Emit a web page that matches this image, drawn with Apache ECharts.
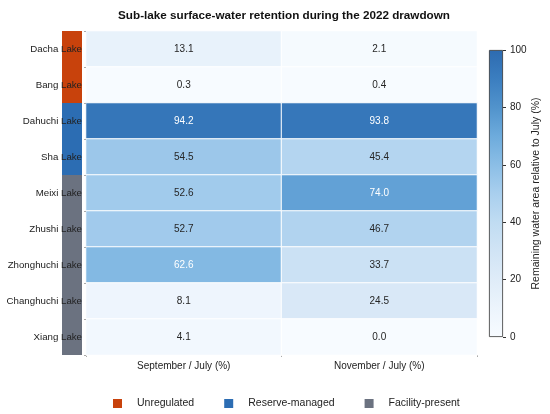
<!DOCTYPE html>
<html>
<head>
<meta charset="utf-8">
<script src="https://cdn.jsdelivr.net/npm/echarts@6/dist/echarts.min.js"></script>
<style>html,body{margin:0;padding:0;background:#fff}#c{width:550px;height:414px}</style>
</head>
<body>
<div id="c"></div>
<script>
const lakes = ['Dacha Lake','Bang Lake','Dahuchi Lake','Sha Lake','Meixi Lake','Zhushi Lake','Zhonghuchi Lake','Changhuchi Lake','Xiang Lake'];
const periods = ['September / July (%)','November / July (%)'];
const sepValues = [13.1, 0.3, 94.2, 54.5, 52.6, 52.7, 62.6, 8.1, 4.1];
const novValues = [2.1, 0.4, 93.8, 45.4, 74.0, 46.7, 33.7, 24.5, 0.0];
const groupNames = ['Unregulated','Reserve-managed','Facility-present'];
const lakeGroups = [0, 0, 1, 1, 2, 2, 2, 2, 2];
const colorbarTicks = [0, 20, 40, 60, 80, 100];

const groupColors = ['#c8420c', '#2c6db3', '#6b7280'];
const rampColors = ['#f7fbff','#ecf4fc','#dfecf8','#d1e4f5','#c0dcf2','#a9cfee','#8bbee6','#6dabdc','#5193cc','#3b7ec0','#2d6bb0'];
const fontFam = '"Liberation Sans", Arial, sans-serif';

const heatData = [];
[sepValues, novValues].forEach((arr, xi) => {
  arr.forEach((v, yi) => {
    heatData.push({ value: [xi, yi, v], label: { color: v > 60 ? '#ffffff' : '#262626' } });
  });
});

const stripSeries = groupNames.map((g, gi) => ({
  name: g,
  type: 'bar',
  xAxisIndex: 1, yAxisIndex: 1,
  barWidth: '100%', barGap: '-100%',
  itemStyle: { color: groupColors[gi] },
  data: lakes.map((l, i) => lakeGroups[i] === gi ? 1 : '-'),
  silent: true
}));

const stops = rampColors.map((c, i) => ({ offset: i / (rampColors.length - 1), color: c }));

const chart = echarts.init(document.getElementById('c'), null, { renderer: 'canvas' });
chart.setOption({
  animation: false,
  backgroundColor: '#fff',
  textStyle: { fontFamily: fontFam },
  title: {
    text: 'Sub-lake surface-water retention during the 2022 drawdown',
    left: 279, textAlign: 'center', top: 5,
    textStyle: { fontSize: 11.7, fontWeight: 'bold', color: '#111', fontFamily: fontFam }
  },
  legend: {
    data: groupNames,
    left: 108, top: 393,
    icon: 'rect', itemWidth: 9, itemHeight: 9, itemGap: 30,
    textStyle: { fontSize: 10.5, color: '#222', padding: [0, 0, 0, 10], fontFamily: fontFam }
  },
  grid: [
    { left: 86, width: 391, top: 31, height: 324 },
    { left: 62, width: 20, top: 31, height: 324 },
    { left: 489, width: 14, top: 50, height: 287 }
  ],
  xAxis: [
    { gridIndex: 0, type: 'category', data: periods,
      axisLine: { show: false },
      axisTick: { show: true, length: 2, lineStyle: { color: '#aaa' } },
      axisLabel: { fontSize: 10, color: '#222', margin: 6 }, splitLine: { show: false } },
    { gridIndex: 1, type: 'value', min: 0, max: 1, show: false },
    { gridIndex: 2, type: 'category', data: ['cb'], show: false }
  ],
  yAxis: [
    { gridIndex: 0, type: 'category', data: lakes, inverse: true, z: 10,
      axisLine: { show: false },
      axisTick: { show: true, length: 2, lineStyle: { color: '#aaa' } },
      axisLabel: { fontSize: 9.7, color: '#222', margin: 4 } },
    { gridIndex: 1, type: 'category', data: lakes, inverse: true, show: false },
    { gridIndex: 2, type: 'value', min: 0, max: 100, interval: 20, position: 'right',
      name: 'Remaining water area relative to July (%)', nameLocation: 'middle', nameRotate: 90, nameGap: 28,
      nameTextStyle: { fontSize: 10.5, color: '#222' },
      axisLine: { show: false },
      axisTick: { show: true, length: 3, lineStyle: { color: '#333' } },
      axisLabel: { fontSize: 10, color: '#222', margin: 7,
        formatter: v => colorbarTicks.indexOf(v) >= 0 ? String(v) : '' },
      splitLine: { show: false } }
  ],
  visualMap: {
    show: false, seriesIndex: 0, min: 0, max: 100, dimension: 2,
    inRange: { color: rampColors }
  },
  series: [
    { type: 'heatmap', xAxisIndex: 0, yAxisIndex: 0, data: heatData,
      itemStyle: { borderColor: '#ffffff', borderWidth: 1 },
      label: { show: true, fontSize: 10, formatter: p => p.value[2].toFixed(1) } },
    ...stripSeries,
    { type: 'bar', xAxisIndex: 2, yAxisIndex: 2, barWidth: '100%', silent: true,
      data: [100],
      itemStyle: { borderColor: '#333', borderWidth: 0.8,
        color: { type: 'linear', x: 0, y: 1, x2: 0, y2: 0, colorStops: stops } } }
  ]
});
</script>
</body>
</html>
